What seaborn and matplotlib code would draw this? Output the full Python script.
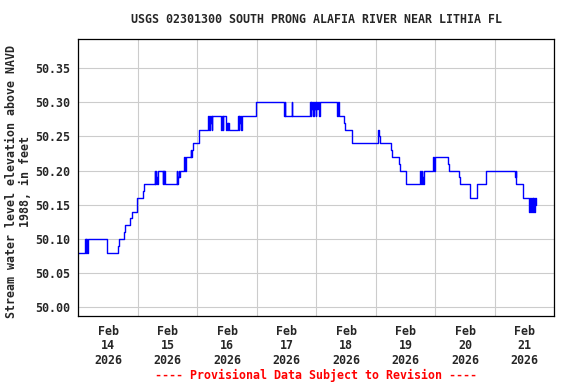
import pandas as pd
import numpy as np
import matplotlib
matplotlib.use("Agg")
import matplotlib.pyplot as plt
import matplotlib.dates as mdates
import seaborn as sns

# gage height readings (hours after 2026-02-14 00:00, feet above NAVD 1988), step changes only
hours = [0, 2.75, 3.0, 3.25, 3.5, 3.75, 11.75, 16.0, 16.5, 18.25, 18.75, 21.0, 21.5, 23.5, 23.75,
         26.0, 26.5, 30.75, 31.0, 31.25, 31.5, 31.75, 32.0, 34.0, 34.25, 34.5, 34.75, 35.0,
         39.75, 40.0, 40.25, 40.5, 40.75, 41.0, 42.5, 42.75, 43.0, 43.25, 45.25, 45.5, 45.75,
         46.25, 48.5, 48.75, 52.5, 52.75, 53.0, 53.25, 53.5, 53.75, 54.0, 57.75, 58.0, 58.25,
         58.5, 59.75, 60.0, 60.25, 60.5, 60.75, 64.5, 64.75, 65.0, 65.25, 65.5, 65.75, 66.0,
         71.5, 71.75, 83.0, 83.25, 83.5, 86.0, 86.25, 93.5, 93.75, 94.0, 94.25, 94.5, 94.75,
         95.0, 95.25, 95.5, 95.75, 96.0, 96.25, 96.5, 97.25, 97.5, 104.5, 104.75, 105.0,
         107.0, 107.5, 110.25, 110.5, 121.0, 121.25, 121.5, 126.25, 126.5, 129.5, 129.75,
         132.0, 132.25, 138.0, 138.25, 138.5, 138.75, 139.0, 139.25, 143.25, 143.5, 143.75,
         149.25, 149.5, 153.75, 154.0, 158.0, 161.0, 164.5, 176.25, 176.5, 176.75, 179.25,
         179.5, 182.0, 182.25, 182.5, 182.75, 183.0, 183.25, 183.5, 184.0, 184.25, 184.5, 184.75]

levels = [50.08, 50.10, 50.08, 50.10, 50.08, 50.10, 50.08, 50.09, 50.10, 50.11, 50.12, 50.13, 50.14, 50.15, 50.16,
          50.17, 50.18, 50.20, 50.18, 50.20, 50.19, 50.18, 50.20, 50.18, 50.20, 50.18, 50.20, 50.18,
          50.20, 50.18, 50.19, 50.20, 50.19, 50.20, 50.21, 50.22, 50.20, 50.22, 50.23, 50.22, 50.23,
          50.24, 50.25, 50.26, 50.28, 50.26, 50.28, 50.27, 50.28, 50.26, 50.28, 50.26, 50.28, 50.26,
          50.28, 50.26, 50.27, 50.26, 50.27, 50.26, 50.28, 50.26, 50.28, 50.27, 50.28, 50.26, 50.28,
          50.29, 50.30, 50.28, 50.30, 50.28, 50.30, 50.28, 50.30, 50.28, 50.30, 50.29, 50.30, 50.28,
          50.30, 50.29, 50.30, 50.28, 50.30, 50.29, 50.30, 50.28, 50.30, 50.28, 50.30, 50.28,
          50.27, 50.26, 50.25, 50.24, 50.26, 50.25, 50.24, 50.23, 50.22, 50.21, 50.20,
          50.19, 50.18, 50.20, 50.18, 50.20, 50.19, 50.18, 50.20, 50.22, 50.20, 50.22,
          50.21, 50.20, 50.19, 50.18, 50.16, 50.18, 50.20, 50.19, 50.20, 50.18, 50.17,
          50.16, 50.14, 50.16, 50.15, 50.14, 50.16, 50.14, 50.16, 50.14, 50.16, 50.15, 50.15]

df = pd.DataFrame({
    "time": pd.Timestamp("2026-02-14") + pd.to_timedelta(hours, unit="h"),
    "level": levels,
})

sns.set_style("white")
plt.rcParams["font.family"] = ["DejaVu Sans Mono", "DejaVu Sans"]
plt.rcParams["font.weight"] = "bold"

fig = plt.figure(figsize=(5.76, 3.84), dpi=100)
ax = fig.add_axes([0.136, 0.1763, 0.8263, 0.7214])

sns.lineplot(data=df, x="time", y="level", ax=ax, estimator=None, sort=False,
             drawstyle="steps-post", color="#0000ff", linewidth=1.0)

ax.set_xlim(pd.Timestamp("2026-02-14"), pd.Timestamp("2026-02-22"))
ax.set_ylim(49.987, 50.392)

# labels at noon, grid at midnight
ax.xaxis.set_major_locator(mdates.HourLocator(byhour=[12]))
ax.xaxis.set_major_formatter(mdates.DateFormatter("%b\n%d\n%Y"))
ax.xaxis.set_minor_locator(mdates.DayLocator())
ax.set_yticks(np.arange(50.0, 50.36, 0.05))
ax.yaxis.set_major_formatter(matplotlib.ticker.FormatStrFormatter("%.2f"))

ax.grid(False)
ax.grid(True, which="minor", axis="x", color="#cccccc", linewidth=0.8)
ax.grid(True, which="major", axis="y", color="#cccccc", linewidth=0.8)
ax.set_axisbelow(True)

ax.tick_params(axis="both", which="both", length=0, labelsize=8.4)
ax.tick_params(axis="y", pad=6)
ax.tick_params(axis="x", pad=6)
for lab in ax.get_xticklabels():
    lab.set_linespacing(1.15)
    lab.set_fontweight("bold")
for lab in ax.get_yticklabels():
    lab.set_fontweight("bold")

for s in ax.spines.values():
    s.set_color("black")
    s.set_linewidth(0.9)

ax.set_xlabel("")
ax.set_ylabel("")

fig.text(0.549, 0.948, "USGS 02301300 SOUTH PRONG ALAFIA RIVER NEAR LITHIA FL",
         ha="center", va="center", fontsize=8.4, fontweight="bold")
fig.text(0.032, 0.528, "Stream water level elevation above NAVD\n1988, in feet",
         ha="center", va="center", rotation=90, fontsize=8.4, fontweight="bold",
         linespacing=1.1, multialignment="center")
fig.text(0.549, 0.023, "---- Provisional Data Subject to Revision ----",
         ha="center", va="center", fontsize=8.4, fontweight="bold", color="red")

fig.savefig("out.png", dpi=100)
